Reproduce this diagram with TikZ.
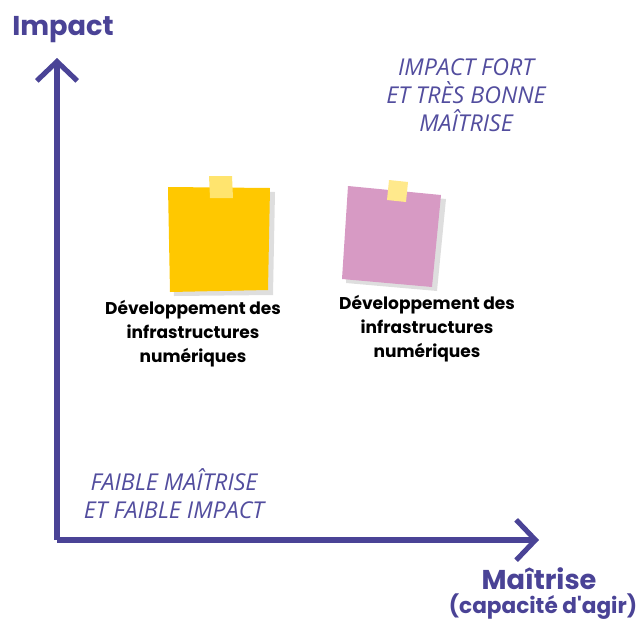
\documentclass[tikz,border=0pt]{standalone}
\usepackage{fontspec}
\setmainfont{Open Sans}
\newfontfamily\handfont{Poppins}
\usetikzlibrary{arrows.meta, positioning}
\definecolor{axispurple}{HTML}{4A4396}
\definecolor{quadpurple}{HTML}{524D9E}
\definecolor{noteyellow}{HTML}{FFC800}
\definecolor{notepink}{HTML}{D79AC4}
\definecolor{tapeyellow}{HTML}{FFE46E}
\definecolor{tapepale}{HTML}{FFE98C}
\tikzset{
    axis/.style={
        draw=axispurple, line width=2.9pt,
        -{Straight Barb[length=11pt, width=23pt]}
    },
    axislabel/.style={
        text=axispurple, font=\handfont\bfseries\fontsize{15.5}{18}\selectfont
    },
    axissub/.style={
        text=axispurple, font=\handfont\bfseries\fontsize{12.3}{13}\selectfont
    },
    quadrant/.style={
        text=quadpurple, align=center,
        font=\itshape\fontsize{13.2}{15.8}\selectfont
    },
    notelabel/.style={
        text=black, align=center,
        font=\handfont\bfseries\fontsize{9.7}{13.6}\selectfont
    },
    shade/.style={fill=black, opacity=0.13},
    tape/.style={draw=none}
}

\begin{document}
\begin{tikzpicture}[x=0.02cm, y=-0.02cm]
\useasboundingbox (0,0) rectangle (643,626);

% axes
\coordinate (origin) at (57,540);
\coordinate (ytop) at (57,58);
\coordinate (xend) at (539,540);
\draw[axis] (origin) -- (ytop);
\draw[axis] (origin) -- (xend);

\node[axislabel] (impact) at (63,30) {Impact};
\node[axislabel] (maitrise) at (539,579) {Maîtrise};
\node[axissub] (capacite) at (543,607) {(capacité d'agir)};

% quadrant captions
\node[quadrant] (fort) at (466,95) {IMPACT FORT\\ET TRÈS BONNE\\MAÎTRISE};
\node[quadrant] (faible) at (174,494) {FAIBLE MAÎTRISE\\ET FAIBLE IMPACT};

% yellow note
\fill[shade] (172,191) -- (275,192) -- (273,295) -- (174,296) -- cycle;
\fill[noteyellow] (168,187) -- (270,188) -- (268,290) -- (170,292) -- cycle;
\fill[tapeyellow] (209,176) -- (232,176) -- (233,198) -- (210,198) -- cycle;

% pink note
\fill[shade] (352,190) -- (446,199) -- (437,291) -- (346,283) -- cycle;
\fill[notepink] (348,186) -- (441,195) -- (432,287) -- (342,279) -- cycle;
\fill[tapepale] (389,180) -- (408,182) -- (406,202) -- (387,200) -- cycle;

% note labels
\node[notelabel] (yellowlabel) at (193,334) {Développement des\\infrastructures\\numériques};
\node[notelabel] (pinklabel) at (427,329) {Développement des\\infrastructures\\numériques};

\end{tikzpicture}
\end{document}
